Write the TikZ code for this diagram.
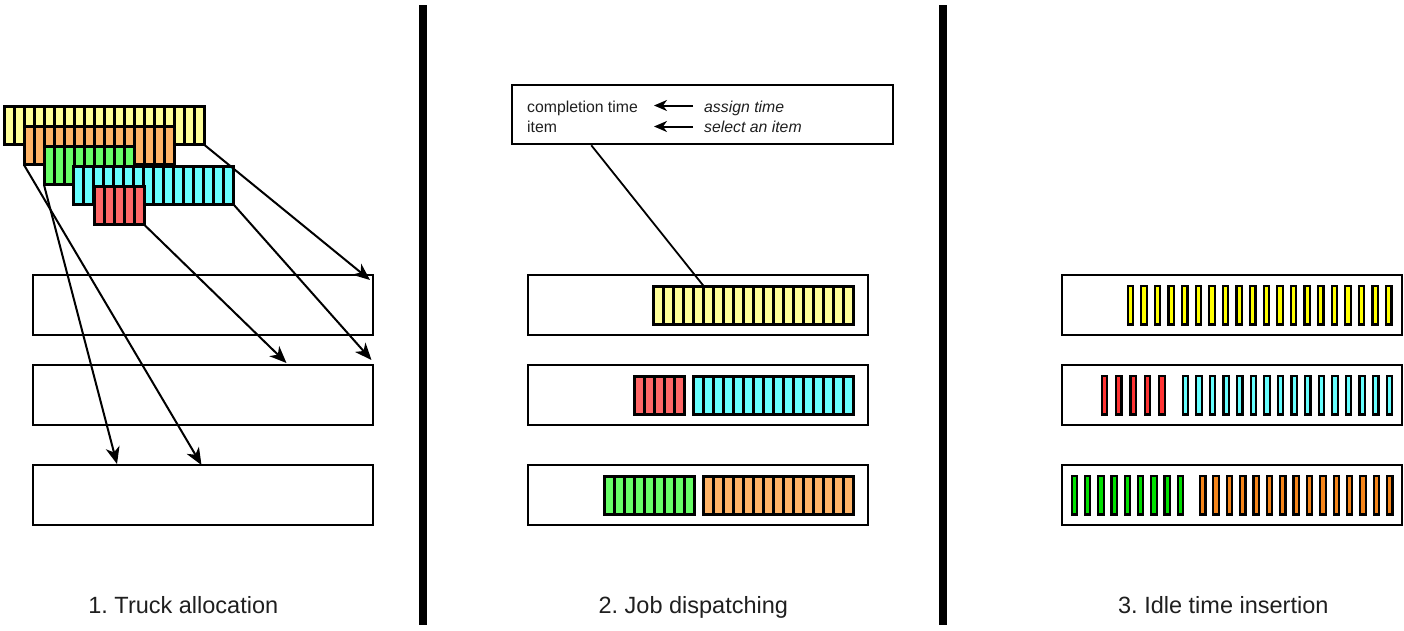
\documentclass[tikz,border=0pt]{standalone}
\usepackage{fontspec}
\setmainfont{Liberation Sans}
\usepackage{tikz}
\usetikzlibrary{arrows.meta,calc}
\usepackage{xcolor}
\frenchspacing

\definecolor{ylwA}{HTML}{FFFF99}
\definecolor{orgA}{HTML}{FFB366}
\definecolor{grnA}{HTML}{66FF66}
\definecolor{cynA}{HTML}{66FFFF}
\definecolor{redA}{HTML}{FF6666}
\definecolor{ylwB}{HTML}{FFFF00}
\definecolor{orgB}{HTML}{F5851A}
\definecolor{grnB}{HTML}{00E000}
\definecolor{cynB}{HTML}{66FFFF}
\definecolor{redB}{HTML}{FF3333}

\newcommand{\jobs}[5]{%
  \foreach \i in {1,...,#4}
    \draw[cell,fill=#5] ({#2+(\i-1)*10},#3) rectangle ++(10,38.5);
  \node[anchor=north west,inner sep=0pt,minimum width=#4*10pt,minimum height=38.5pt] (#1) at (#2,#3) {};
}
\newcommand{\slots}[6]{%
  \foreach \i in {1,...,#4}
    \draw[slot,fill=#6] ({#2+(\i-1)*#5},#3) rectangle ++(5.4,38.5);
}

\begin{document}
\begin{tikzpicture}[x=1pt,y=-1pt,
  cell/.style={draw=black,line width=3pt},
  slot/.style={draw=black,line width=2.2pt},
  truck/.style={draw=black,line width=2.5pt,minimum width=340pt,minimum height=60pt,inner sep=0pt},
  link/.style={-{Stealth[length=17pt,width=14pt,inset=5pt]},line width=2pt},
  hint/.style={-{Stealth[length=13pt,width=11pt,inset=4pt]},line width=2pt},
  caption/.style={font=\fontsize{23.5}{28}\selectfont,text=black!88,anchor=base},
  small/.style={font=\fontsize{15.8}{19}\selectfont,text=black!88,anchor=base west,inner sep=0pt}]
\useasboundingbox (0,0) rectangle (1404,630);

\draw[line width=7.5pt] (423,5) -- (423,625);
\draw[line width=7.5pt] (943,5) -- (943,625);

\node[truck] (l1) at (203,305) {};
\node[truck] (l2) at (203,395) {};
\node[truck] (l3) at (203,495) {};
\node[truck] (m1) at (698,305) {};
\node[truck] (m2) at (698,395) {};
\node[truck] (m3) at (698,495) {};
\node[truck] (r1) at (1232,305) {};
\node[truck] (r2) at (1232,395) {};
\node[truck] (r3) at (1232,495) {};

\jobs{yL}{4}{106}{20}{ylwA}
\jobs{oL}{24}{126}{15}{orgA}
\jobs{gL}{44}{146}{9}{grnA}
\jobs{cL}{73.5}{166}{16}{cynA}
\jobs{rL}{94}{186}{5}{redA}

\coordinate (a1) at (370,280);
\coordinate (a2) at (371.5,360);
\coordinate (a3) at (286.5,363);
\coordinate (a4) at (117,464);
\coordinate (a5) at (201.5,465);
\draw[link] (yL.south east) -- (a1);
\draw[link] (cL.south east) -- (a2);
\draw[link] (rL.south east) -- (a3);
\draw[link] (gL.south west) -- (a4);
\draw[link] (oL.south west) -- (a5);

\jobs{yM}{653.5}{286}{20}{ylwA}
\jobs{rM}{634}{376}{5}{redA}
\jobs{cM}{693.5}{376}{16}{cynA}
\jobs{gM}{604}{476}{9}{grnA}
\jobs{oM}{703.5}{476}{15}{orgA}

\node[draw=black,line width=2.5pt,minimum width=381pt,minimum height=59pt,inner sep=0pt] (info) at (702.5,114.5) {};
\node[small] (ct) at (527,112) {completion time};
\node[small] (it) at (527,132.5) {item};
\node[small] (as) at (704,112) {\itshape assign time};
\node[small] (se) at (704,132.5) {\itshape select an item};
\coordinate (h1) at (654,105.5);
\coordinate (h2) at (654,126.5);
\draw[hint] ([xshift=-11pt,yshift=6.5pt]as.base west) -- (h1);
\draw[hint] ([xshift=-11pt,yshift=6pt]se.base west) -- (h2);
\draw[line width=1.8pt] ($(info.south west)!0.21!(info.south east)$) -- ($(yM.north west)!0.25!(yM.north east)$);

\slots{yR}{1127.7}{286}{20}{13.6}{ylwB}
\slots{rR}{1101.7}{376}{5}{14.4}{redB}
\slots{cR}{1182.7}{376}{16}{13.6}{cynB}
\slots{gR}{1071.7}{476}{9}{13.25}{grnB}
\slots{oR}{1200}{476}{15}{13.36}{orgB}

\node[caption] (c1) at (183.3,613.3) {1. Truck allocation};
\node[caption] (c2) at (693.3,613.3) {2. Job dispatching};
\node[caption] (c3) at (1223.3,613.3) {3. Idle time insertion};
\end{tikzpicture}
\end{document}
